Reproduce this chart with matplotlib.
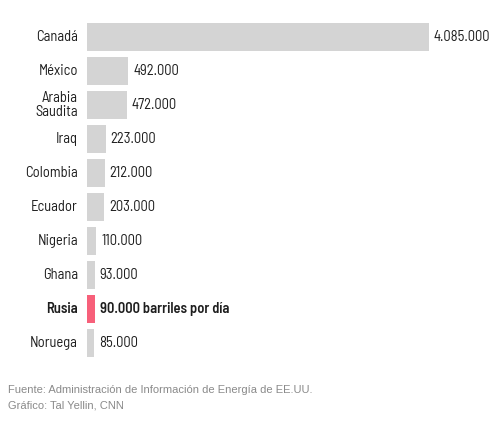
import matplotlib.pyplot as plt

paises = ["Canadá", "México", "Arabia\nSaudita", "Iraq", "Colombia",
          "Ecuador", "Nigeria", "Ghana", "Rusia", "Noruega"]
barriles = [4085000, 492000, 472000, 223000, 212000,
            203000, 110000, 93000, 90000, 85000]
etiquetas = ["4.085.000", "492.000", "472.000", "223.000", "212.000",
             "203.000", "110.000", "93.000", "90.000 barriles por día", "85.000"]
destacado = "Rusia"

fuente = ["Barlow Semi Condensed", "DejaVu Sans"]

fig = plt.figure(figsize=(5.02, 4.28), dpi=100)
ax = fig.add_axes([87 / 502, 1 - 360 / 428, 342 / 502, (360 - 20) / 428])

y = list(range(len(paises)))
colores = ["#f7607a" if p == destacado else "#d4d4d4" for p in paises]
ax.barh(y, barriles, height=0.84, color=colores)
ax.set_xlim(0, max(barriles))
ax.set_ylim(len(paises) - 0.5, -0.5)
ax.axis("off")

for i, (p, v, t) in enumerate(zip(paises, barriles, etiquetas)):
    peso = 600 if p == destacado else 400
    ax.annotate(p, (0, i), xytext=(-9, 0), textcoords="offset pixels",
                ha="right", va="center", fontsize=10.5, family=fuente,
                color="#1e1e1e", weight=peso, linespacing=0.95,
                annotation_clip=False)
    ax.annotate(t, (v, i), xytext=(5, 0), textcoords="offset pixels",
                ha="left", va="center", fontsize=10.5, family=fuente,
                color="#1e1e1e", weight=peso, annotation_clip=False)

fig.text(8 / 502, 1 - 390 / 428, "Fuente: Administración de Información de Energía de EE.UU.",
         fontsize=8, color="#8a8a8a", family="Liberation Sans", va="center")
fig.text(8 / 502, 1 - 405 / 428, "Gráfico: Tal Yellin, CNN",
         fontsize=8, color="#8a8a8a", family="Liberation Sans", va="center")

fig.savefig("out.png", dpi=100, facecolor="white")
